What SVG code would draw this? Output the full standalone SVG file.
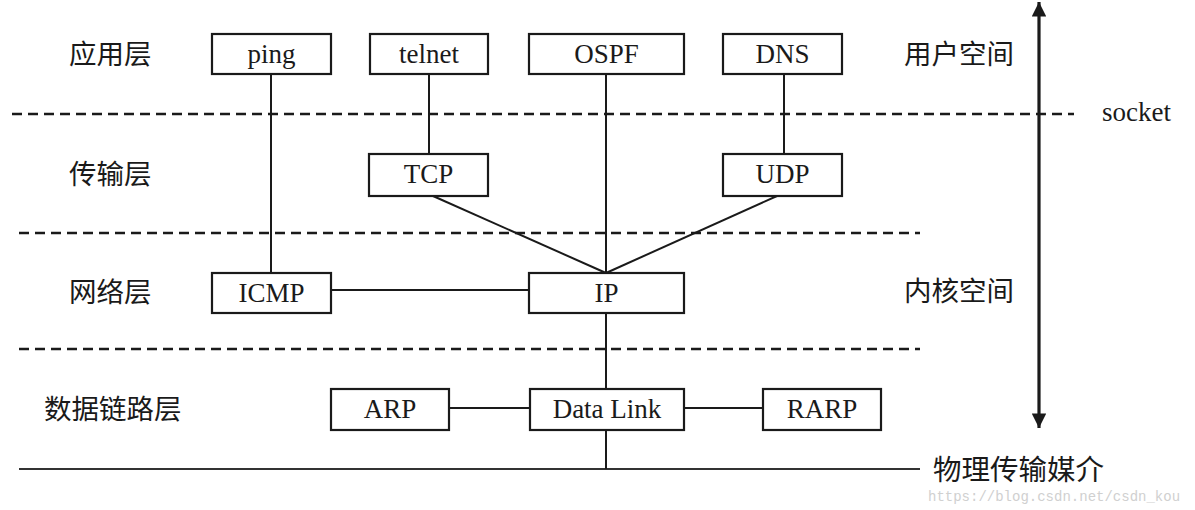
<svg xmlns="http://www.w3.org/2000/svg" width="1195" height="510" viewBox="0 0 1195 510">
<style>
.box{fill:#fff;stroke:#1a1a1a;stroke-width:2.2}
.bt{font-family:"Liberation Serif","Times New Roman",serif;font-size:27px;fill:#1a1a1a;text-anchor:middle}
.cn{font-family:"Noto Sans CJK SC",sans-serif;font-size:27.5px;fill:#1a1a1a}
.ln{stroke:#1a1a1a;stroke-width:2;fill:none}
.dash{stroke:#1a1a1a;stroke-width:2.5;stroke-dasharray:10 6;fill:none}
</style>
<defs>
<marker id="ah" viewBox="0 0 10 10" refX="10" refY="5" markerWidth="5" markerHeight="4.5" orient="auto-start-reverse" markerUnits="strokeWidth">
<path d="M0,0 L10,5 L0,10 z" fill="#1a1a1a"/>
</marker>
</defs>
<g id="separators">
<line class="dash" x1="12" y1="114" x2="1074" y2="114"/>
<line class="dash" x1="19" y1="233" x2="920" y2="233"/>
<line class="dash" x1="19" y1="349" x2="920" y2="349"/>
<line x1="19" y1="469" x2="920" y2="469" stroke="#333" stroke-width="2"/>
<line x1="1039" y1="2" x2="1039" y2="428" stroke="#1a1a1a" stroke-width="3.2" marker-start="url(#ah)" marker-end="url(#ah)"/>
</g>
<g id="connectors">
<line class="ln" x1="271" y1="75" x2="271" y2="273"/>
<line class="ln" x1="429" y1="75" x2="429" y2="154"/>
<line class="ln" x1="606" y1="75" x2="606" y2="273"/>
<line class="ln" x1="784" y1="75" x2="784" y2="154"/>
<line class="ln" x1="433" y1="196" x2="606" y2="273"/>
<line class="ln" x1="777" y1="196" x2="606" y2="273"/>
<line class="ln" x1="331" y1="290" x2="529" y2="290"/>
<line class="ln" x1="606" y1="314" x2="606" y2="389"/>
<line class="ln" x1="449" y1="408" x2="530" y2="408"/>
<line class="ln" x1="684" y1="408" x2="763" y2="408"/>
<line class="ln" x1="606" y1="430" x2="606" y2="469"/>
</g>
<g id="ping"><rect class="box" x="212" y="34" width="119" height="40"/><text class="bt" x="271.5" y="63">ping</text></g>
<g id="telnet"><rect class="box" x="370" y="34" width="118" height="40"/><text class="bt" x="429" y="63">telnet</text></g>
<g id="ospf"><rect class="box" x="529" y="34" width="155" height="40"/><text class="bt" x="606.5" y="63">OSPF</text></g>
<g id="dns"><rect class="box" x="723" y="34" width="119" height="40"/><text class="bt" x="782.5" y="63">DNS</text></g>
<g id="tcp"><rect class="box" x="369" y="154" width="119" height="42"/><text class="bt" x="428.5" y="183">TCP</text></g>
<g id="udp"><rect class="box" x="723" y="154" width="119" height="42"/><text class="bt" x="782.5" y="183">UDP</text></g>
<g id="icmp"><rect class="box" x="212" y="273" width="119" height="40"/><text class="bt" x="271.5" y="302">ICMP</text></g>
<g id="ip"><rect class="box" x="529" y="273" width="155" height="40"/><text class="bt" x="606.5" y="302">IP</text></g>
<g id="arp"><rect class="box" x="331" y="389" width="118" height="41"/><text class="bt" x="390" y="418">ARP</text></g>
<g id="datalink"><rect class="box" x="530" y="389" width="154" height="41"/><text class="bt" x="607" y="418">Data Link</text></g>
<g id="rarp"><rect class="box" x="763" y="389" width="118" height="41"/><text class="bt" x="822" y="418">RARP</text></g>
<g id="labels">
<text class="cn" x="69" y="64">应用层</text>
<text class="cn" x="69" y="184">传输层</text>
<text class="cn" x="69" y="302">网络层</text>
<text class="cn" x="44" y="419">数据链路层</text>
<text class="cn" x="904" y="64">用户空间</text>
<text class="cn" x="904" y="301">内核空间</text>
<text class="bt" x="1102" y="121" style="text-anchor:start">socket</text>
<text class="cn" x="933" y="480" style="font-size:28.5px">物理传输媒介</text>
<text x="928" y="501" style="font-family:'Liberation Mono',monospace;font-size:14px;fill:#d0d0d0">https://blog.csdn.net/csdn_kou</text>
</g>
</svg>
